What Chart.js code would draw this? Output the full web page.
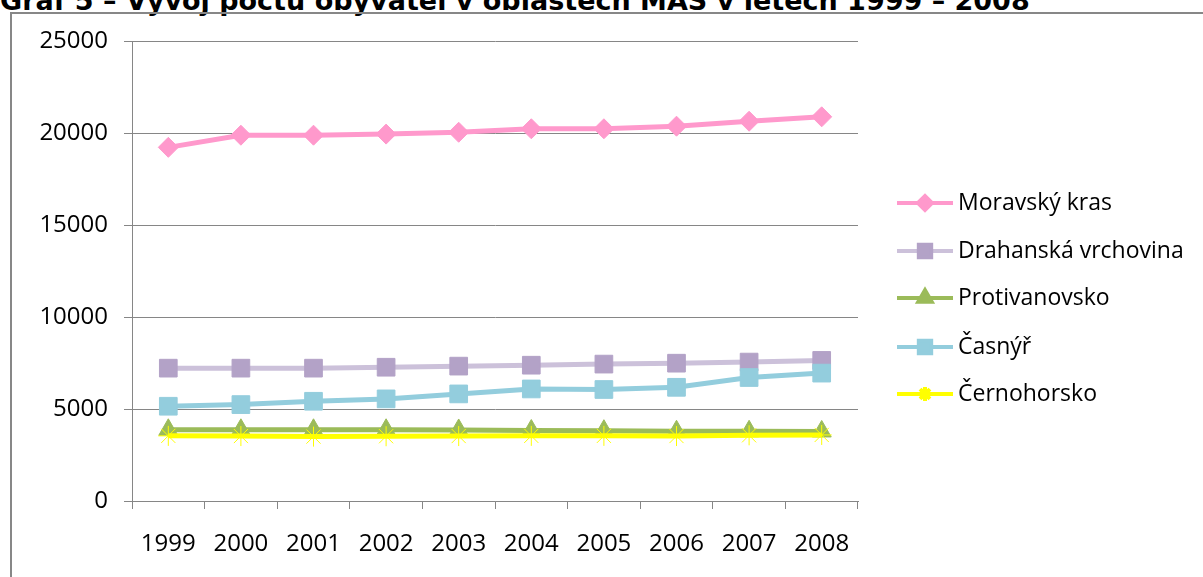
<!DOCTYPE html>
<html>
<head>
<meta charset="utf-8">
<script src="https://cdn.jsdelivr.net/npm/chart.js@4"></script>
<style>
  html, body { margin: 0; padding: 0; background: #fff; overflow: hidden; }
  #wrap { position: relative; width: 1203px; height: 577px; }
  #title { position: absolute; left: 0px; top: -13px; font: bold 27px "DejaVu Sans"; line-height: 27px; white-space: nowrap; color: #000; }
  #frame { position: absolute; left: 10px; top: 12px; width: 1250px; height: 700px; border-left: 2px solid #878787; border-top: 2px solid #878787; }
  #chartBox { position: absolute; left: 0; top: 0; width: 1203px; height: 577px; }
</style>
</head>
<body>
<div id="wrap">
  <div id="title">Graf 5 – Vývoj počtu obyvatel v oblastech MAS v letech 1999 – 2008</div>
  <div id="frame"></div>
  <div id="chartBox"><canvas id="popChart"></canvas></div>
</div>
<script>
var years = ['1999', '2000', '2001', '2002', '2003', '2004', '2005', '2006', '2007', '2008'];
var seriesNames = ['Moravský kras', 'Drahanská vrchovina', 'Protivanovsko', 'Časnýř', 'Černohorsko'];
var moravskyKras = [19220, 19880, 19880, 19940, 20040, 20230, 20230, 20370, 20640, 20880];
var drahanska = [7220, 7220, 7220, 7270, 7330, 7380, 7440, 7490, 7550, 7640];
var protivanovsko = [3870, 3870, 3870, 3870, 3860, 3830, 3820, 3790, 3790, 3780];
var casnyr = [5150, 5240, 5420, 5550, 5820, 6090, 6060, 6180, 6710, 6950];
var cernohorsko = [3540, 3530, 3500, 3520, 3530, 3540, 3540, 3530, 3570, 3590];
var yTicks = [0, 5000, 10000, 15000, 20000, 25000];

var axisGray = '#868686';
var tickFont = { family: '"Open Sans"', size: 24 };
var legendFont = { family: '"Open Sans"', size: 23 };

function series(i, values, line, marker, style, radius, bw) {
    return {
        label: seriesNames[i],
        data: values,
        borderColor: line,
        backgroundColor: marker,
        borderWidth: 5,
        tension: 0,
        pointStyle: style,
        pointRadius: radius,
        pointHoverRadius: radius,
        pointBackgroundColor: marker,
        pointBorderColor: marker,
        pointBorderWidth: bw,
        legendRadius: radius * 0.7,
        order: 4 - i
    };
}

var datasets = [
    series(0, moravskyKras, '#FF99CC', '#FF99CC', 'rectRot', 10, 1),
    series(1, drahanska, '#CCC1DA', '#B3A2C7', 'rect', 12.5, 1),
    series(2, protivanovsko, '#9BBB59', '#9BBB59', 'triangle', 11, 1),
    series(3, casnyr, '#93CDDD', '#93CDDD', 'rect', 12.5, 1),
    series(4, cernohorsko, '#FFFF00', '#FFFF00', 'star', 10, 1)
];

// legend with line + marker like the original
var lineLegend = {
    id: 'lineLegend',
    afterDraw: function(chart) {
        var ctx = chart.ctx;
        var ys = [203, 251, 298, 347, 394];
        ctx.save();
        chart.data.datasets.forEach(function(ds, i) {
            var y = ys[i];
            ctx.strokeStyle = ds.borderColor;
            ctx.lineWidth = 4;
            ctx.beginPath();
            ctx.moveTo(897, y);
            ctx.lineTo(953, y);
            ctx.stroke();
            ctx.fillStyle = ds.pointBackgroundColor;
            ctx.strokeStyle = ds.pointBorderColor;
            Chart.helpers.drawPoint(ctx, {
                pointStyle: ds.pointStyle,
                rotation: 0,
                radius: ds.legendRadius,
                borderWidth: ds.pointBorderWidth
            }, 925, y);
            ctx.fillStyle = '#000';
            ctx.font = legendFont.size + 'px ' + legendFont.family;
            ctx.textBaseline = 'middle';
            ctx.textAlign = 'left';
            ctx.fillText(ds.label, 958, y);
        });
        ctx.restore();
    }
};

var ctx = document.getElementById('popChart');
new Chart(ctx, {
    type: 'line',
    data: {
        labels: years,
        datasets: datasets
    },
    options: {
        responsive: true,
        maintainAspectRatio: false,
        animation: false,
        layout: {
            padding: { top: 41, right: 345, bottom: 0, left: 0 }
        },
        plugins: {
            legend: { display: false },
            tooltip: { enabled: false }
        },
        scales: {
            x: {
                offset: true,
                afterFit: function(scale) { scale.height = 76; },
                grid: {
                    offset: true,
                    drawOnChartArea: false,
                    drawTicks: true,
                    tickLength: 8,
                    color: axisGray
                },
                border: { color: axisGray, width: 1 },
                ticks: { color: '#000', font: tickFont, padding: 21, maxRotation: 0 }
            },
            y: {
                min: 0,
                max: 25000,
                afterFit: function(scale) { scale.width = 132; },
                afterBuildTicks: function(scale) {
                    scale.ticks = yTicks.map(function(v) { return { value: v }; });
                },
                grid: {
                    color: axisGray,
                    tickLength: 8
                },
                border: { color: axisGray, width: 1 },
                ticks: {
                    color: '#000',
                    font: tickFont,
                    padding: 16,
                    callback: function(v) { return String(v); }
                }
            }
        }
    },
    plugins: [lineLegend]
});
</script>
</body>
</html>
